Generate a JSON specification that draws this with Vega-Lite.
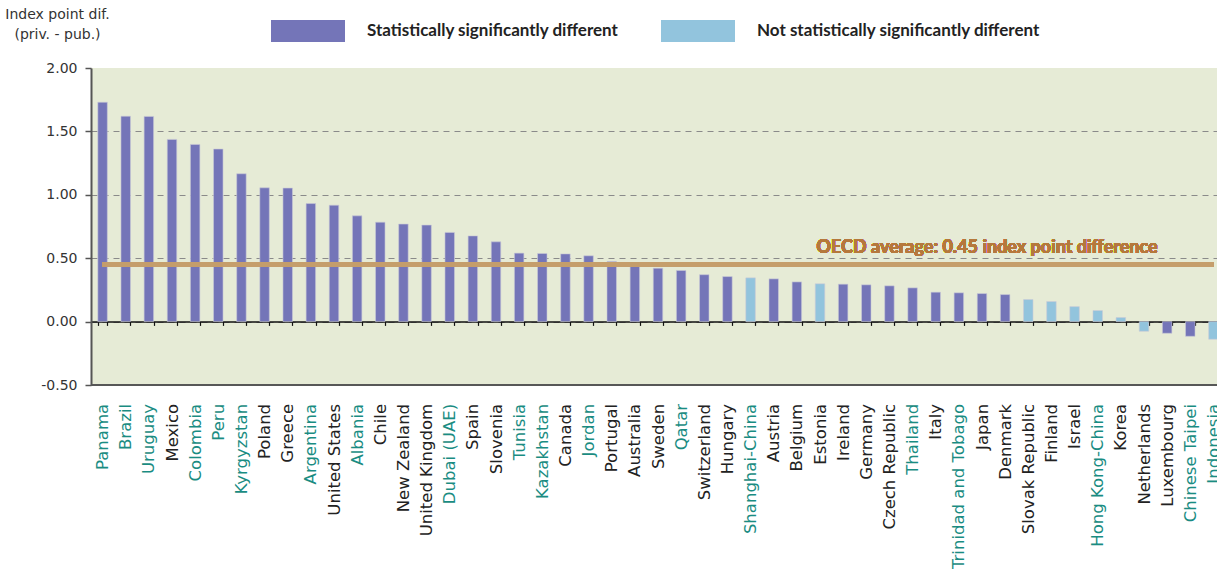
{
  "$schema": "https://vega.github.io/schema/vega-lite/v6.json",
  "autosize": {"type": "none"},
  "padding": {"left": 91, "top": 68, "right": -8, "bottom": 187},
  "width": 1134,
  "height": 317,
  "background": "white",
  "view": {"fill": "#E6EBD6", "stroke": null},
  "config": {
    "font": "DejaVu Sans",
    "axis": {"labelFont": "DejaVu Sans", "titleFont": "DejaVu Sans"},
    "legend": {"labelFont": "Lato"}
  },
  "data": {"values": [
    {"country": "Panama", "value": 1.73, "sig": "Statistically significantly different"},
    {"country": "Brazil", "value": 1.62, "sig": "Statistically significantly different"},
    {"country": "Uruguay", "value": 1.618, "sig": "Statistically significantly different"},
    {"country": "Mexico", "value": 1.437, "sig": "Statistically significantly different"},
    {"country": "Colombia", "value": 1.397, "sig": "Statistically significantly different"},
    {"country": "Peru", "value": 1.361, "sig": "Statistically significantly different"},
    {"country": "Kyrgyzstan", "value": 1.166, "sig": "Statistically significantly different"},
    {"country": "Poland", "value": 1.055, "sig": "Statistically significantly different"},
    {"country": "Greece", "value": 1.053, "sig": "Statistically significantly different"},
    {"country": "Argentina", "value": 0.931, "sig": "Statistically significantly different"},
    {"country": "United States", "value": 0.918, "sig": "Statistically significantly different"},
    {"country": "Albania", "value": 0.834, "sig": "Statistically significantly different"},
    {"country": "Chile", "value": 0.784, "sig": "Statistically significantly different"},
    {"country": "New Zealand", "value": 0.769, "sig": "Statistically significantly different"},
    {"country": "United Kingdom", "value": 0.761, "sig": "Statistically significantly different"},
    {"country": "Dubai (UAE)", "value": 0.703, "sig": "Statistically significantly different"},
    {"country": "Spain", "value": 0.676, "sig": "Statistically significantly different"},
    {"country": "Slovenia", "value": 0.629, "sig": "Statistically significantly different"},
    {"country": "Tunisia", "value": 0.54, "sig": "Statistically significantly different"},
    {"country": "Kazakhstan", "value": 0.537, "sig": "Statistically significantly different"},
    {"country": "Canada", "value": 0.534, "sig": "Statistically significantly different"},
    {"country": "Jordan", "value": 0.519, "sig": "Statistically significantly different"},
    {"country": "Portugal", "value": 0.474, "sig": "Statistically significantly different"},
    {"country": "Australia", "value": 0.466, "sig": "Statistically significantly different"},
    {"country": "Sweden", "value": 0.421, "sig": "Statistically significantly different"},
    {"country": "Qatar", "value": 0.403, "sig": "Statistically significantly different"},
    {"country": "Switzerland", "value": 0.37, "sig": "Statistically significantly different"},
    {"country": "Hungary", "value": 0.355, "sig": "Statistically significantly different"},
    {"country": "Shanghai-China", "value": 0.345, "sig": "Not statistically significantly different"},
    {"country": "Austria", "value": 0.337, "sig": "Statistically significantly different"},
    {"country": "Belgium", "value": 0.313, "sig": "Statistically significantly different"},
    {"country": "Estonia", "value": 0.298, "sig": "Not statistically significantly different"},
    {"country": "Ireland", "value": 0.295, "sig": "Statistically significantly different"},
    {"country": "Germany", "value": 0.29, "sig": "Statistically significantly different"},
    {"country": "Czech Republic", "value": 0.282, "sig": "Statistically significantly different"},
    {"country": "Thailand", "value": 0.266, "sig": "Statistically significantly different"},
    {"country": "Italy", "value": 0.232, "sig": "Statistically significantly different"},
    {"country": "Trinidad and Tobago", "value": 0.227, "sig": "Statistically significantly different"},
    {"country": "Japan", "value": 0.221, "sig": "Statistically significantly different"},
    {"country": "Denmark", "value": 0.213, "sig": "Statistically significantly different"},
    {"country": "Slovak Republic", "value": 0.174, "sig": "Not statistically significantly different"},
    {"country": "Finland", "value": 0.158, "sig": "Not statistically significantly different"},
    {"country": "Israel", "value": 0.118, "sig": "Not statistically significantly different"},
    {"country": "Hong Kong-China", "value": 0.087, "sig": "Not statistically significantly different"},
    {"country": "Korea", "value": 0.032, "sig": "Not statistically significantly different"},
    {"country": "Netherlands", "value": -0.076, "sig": "Not statistically significantly different"},
    {"country": "Luxembourg", "value": -0.092, "sig": "Statistically significantly different"},
    {"country": "Chinese Taipei", "value": -0.116, "sig": "Statistically significantly different"},
    {"country": "Indonesia", "value": -0.139, "sig": "Not statistically significantly different"}
  ]},
  "layer": [
    {
      "mark": {"type": "bar", "stroke": "#c9cad6", "strokeWidth": 0.6},
      "encoding": {
        "x": {
          "field": "country", "type": "nominal", "sort": null,
          "scale": {"paddingInner": 0.59, "paddingOuter": 0.295},
          "axis": {
            "title": null,
            "offset": -63.6,
            "domainColor": "#111", "domainWidth": 1.5,
            "tickColor": "#111", "tickSize": 4, "tickWidth": 1.2, "tickBand": "extent",
            "labelAngle": -90, "labelPadding": 78, "labelFontSize": 16.5,
            "labelColor": {
              "condition": {
                "test": "indexof(['Panama','Brazil','Uruguay','Colombia','Peru','Kyrgyzstan','Argentina','Albania','Dubai (UAE)','Tunisia','Kazakhstan','Jordan','Qatar','Shanghai-China','Thailand','Trinidad and Tobago','Hong Kong-China','Chinese Taipei','Indonesia'], datum.value) >= 0",
                "value": "#1A8C82"
              },
              "value": "#222222"
            },
            "labelLimit": 300
          }
        },
        "y": {
          "field": "value", "type": "quantitative",
          "scale": {"domain": [-0.5, 2], "nice": false, "zero": false},
          "axis": {
            "values": [-0.5, 0, 0.5, 1, 1.5, 2],
            "labelExpr": "replace(format(datum.value, '.2f'), '\u2212', '-')",
            "title": ["Index point dif.", "(priv. - pub.)"],
            "titleAngle": 0, "titleAlign": "center", "titleBaseline": "top",
            "titleX": -34, "titleY": -61, "titleFontSize": 14, "titleFontWeight": "normal",
            "titleColor": "#333", "titleLineHeight": 20,
            "domainColor": "#555", "domainWidth": 2,
            "tickColor": "#555", "tickSize": 6, "tickWidth": 1.5,
            "labelFontSize": 14, "labelColor": "#333", "labelPadding": 8,
            "grid": true, "gridDash": [6, 5], "gridColor": "#8a8a8a", "gridWidth": 1.2,
            "gridOpacity": {"condition": {"test": "datum.value >= 2", "value": 0}, "value": 1}
          }
        },
        "color": {
          "field": "sig", "type": "nominal",
          "scale": {
            "domain": ["Statistically significantly different", "Not statistically significantly different"],
            "range": ["#7475B8", "#92C4DD"]
          },
          "legend": {
            "title": null, "orient": "none", "direction": "horizontal",
            "legendX": 180, "legendY": -74, "padding": 0,
            "symbolType": "M-1,-0.297L1,-0.297L1,0.297L-1,0.297Z",
            "symbolSize": 5476, "symbolStrokeWidth": 0, "symbolOpacity": 1,
            "labelFont": "Lato", "labelFontSize": 17, "labelFontWeight": "bold", "labelColor": "#222",
            "labelOffset": 22, "columnPadding": 42, "labelLimit": 400
          }
        }
      }
    },
    {
      "mark": {"type": "rule", "color": "#575757", "strokeWidth": 2},
      "encoding": {"y": {"datum": -0.5}}
    },
    {
      "mark": {"type": "rule", "color": "#C49D6B", "strokeWidth": 5, "opacity": 0.85},
      "encoding": {
        "x": {"datum": "Panama"},
        "x2": {"datum": "Indonesia"},
        "y": {"datum": 0.45}
      }
    },
    {
      "mark": {"type": "text", "text": "OECD average: 0.45 index point difference", "font": "Lato", "fontSize": 18, "fontWeight": "bold", "fill": "#B5783C", "stroke": null, "align": "center", "baseline": "middle", "dx": 5, "dy": -17},
      "encoding": {
        "x": {"datum": "Japan"},
        "y": {"datum": 0.45}
      }
    }
  ]
}
